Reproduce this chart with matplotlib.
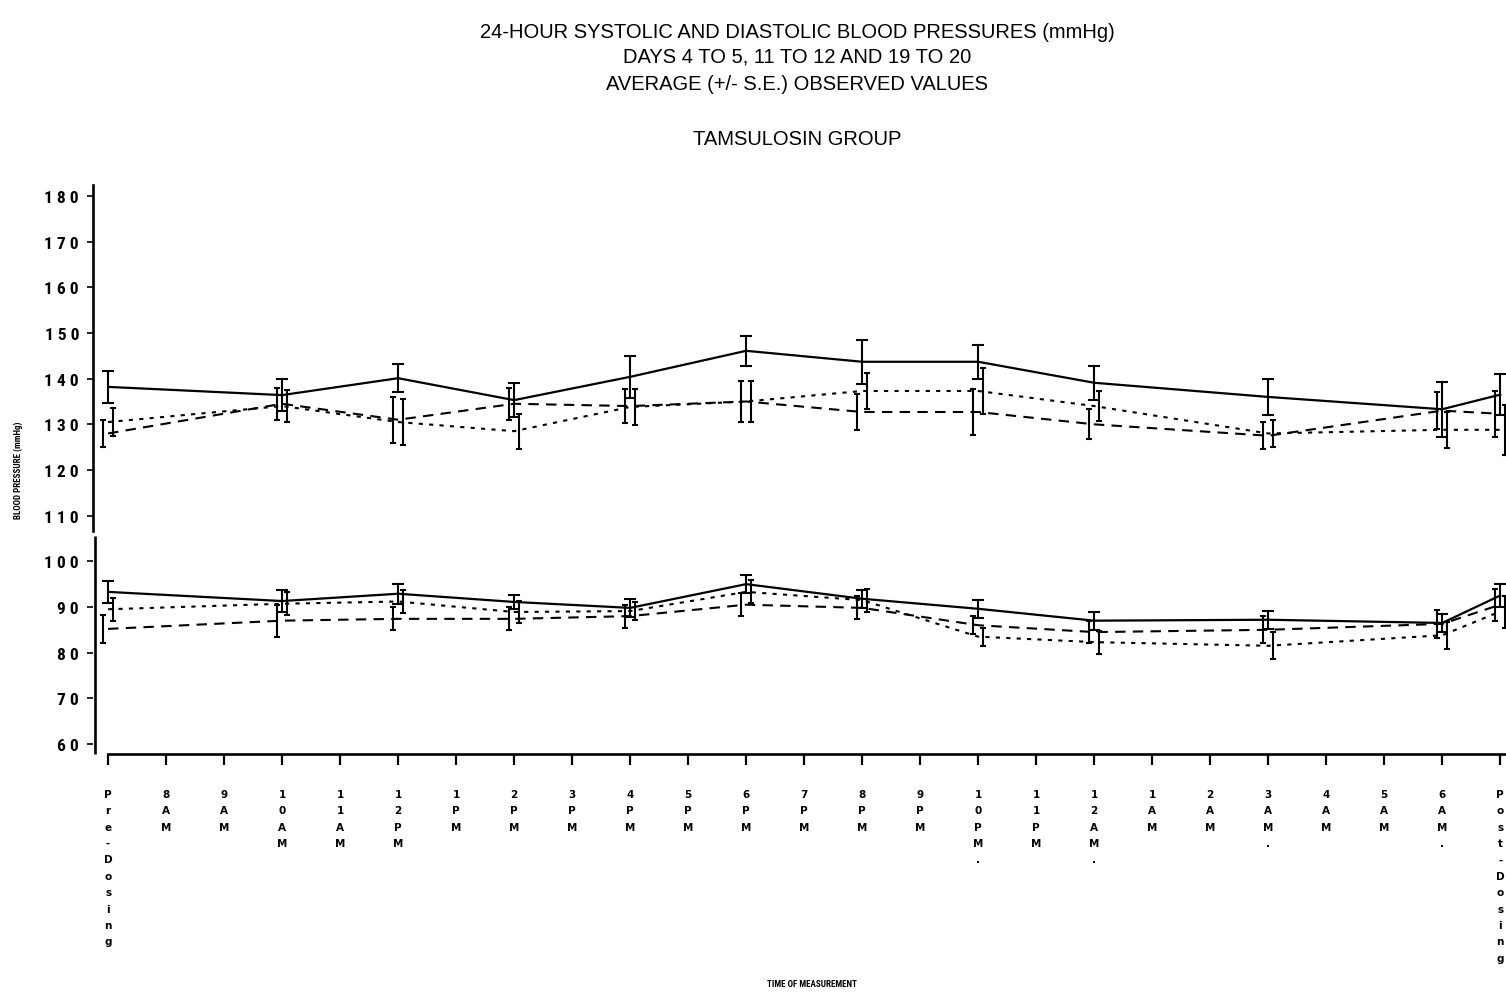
import matplotlib
matplotlib.use("Agg")
import matplotlib.pyplot as plt
import matplotlib.transforms as mtransforms
from matplotlib import font_manager

# ---------------- data ----------------
tick_labels = ["Pre-Dosing", "8AM", "9AM", "10AM", "11AM", "12PM", "1PM", "2PM",
               "3PM", "4PM", "5PM", "6PM", "7PM", "8PM", "9PM", "10PM.", "11PM",
               "12AM.", "1AM", "2AM", "3AM.", "4AM", "5AM", "6AM.", "Post-Dosing"]
y_ticks = [60, 70, 80, 90, 100, 110, 120, 130, 140, 150, 160, 170, 180]

# positions (index into tick_labels) where blood pressure was measured
meas_idx = [0, 3, 5, 7, 9, 11, 13, 15, 17, 20, 23, 24]

# systolic
sys_days_4_5 = [138.2, 136.4, 140.1, 135.3, 140.4, 146.1, 143.7, 143.7, 139.1, 136.0, 133.3, 136.5]
sys_days_4_5_se = [3.5, 3.5, 3.1, 3.8, 4.6, 3.3, 4.8, 3.7, 3.7, 3.9, 6.0, 4.5]
sys_days_11_12 = [128.0, 134.5, 131.0, 134.5, 134.0, 135.0, 132.7, 132.7, 130.0, 127.5, 133.0, 132.3]
sys_days_11_12_se = [3.0, 3.5, 5.0, 3.5, 3.8, 4.5, 4.0, 5.0, 3.3, 3.0, 4.0, 5.0]
sys_days_19_20 = [130.5, 134.0, 130.5, 128.5, 133.8, 135.0, 137.3, 137.3, 134.0, 128.0, 128.8, 128.8]
sys_days_19_20_se = [3.0, 3.5, 5.0, 3.8, 3.9, 4.5, 4.0, 5.0, 3.3, 3.0, 4.0, 5.5]

# diastolic
dia_days_4_5 = [93.3, 91.3, 92.9, 91.1, 89.8, 95.0, 91.8, 89.6, 87.0, 87.2, 86.5, 92.5]
dia_days_4_5_se = [2.4, 2.5, 2.2, 1.6, 2.0, 2.0, 2.0, 2.0, 2.0, 2.0, 2.0, 2.5]
dia_days_11_12 = [85.2, 87.0, 87.4, 87.4, 88.0, 90.5, 89.8, 86.0, 84.5, 85.0, 86.3, 90.5]
dia_days_11_12_se = [3.0, 3.5, 2.5, 2.5, 2.5, 2.5, 2.5, 2.0, 2.5, 3.0, 3.0, 3.5]
dia_days_19_20 = [89.5, 90.7, 91.2, 88.9, 89.1, 93.3, 91.5, 83.5, 82.3, 81.5, 83.8, 89.0]
dia_days_19_20_se = [2.5, 2.5, 2.5, 2.5, 2.0, 2.5, 2.5, 2.0, 2.5, 3.0, 3.0, 3.5]

title_lines = ["24-HOUR SYSTOLIC AND DIASTOLIC BLOOD PRESSURES (mmHg)",
               "DAYS 4 TO 5, 11 TO 12 AND 19 TO 20",
               "AVERAGE (+/- S.E.) OBSERVED VALUES"]
subtitle = "TAMSULOSIN GROUP"
x_label = "TIME OF MEASUREMENT"
y_label = "BLOOD PRESSURE (mmHg)"

# ---------------- fonts ----------------
def pick(fams):
    for f in fams:
        try:
            font_manager.findfont(f, fallback_to_default=False)
            return f
        except Exception:
            pass
    return "DejaVu Sans"

narrow = pick(["Liberation Sans Narrow", "DejaVu Sans Condensed", "Roboto Condensed", "Liberation Sans"])
regular = pick(["Liberation Sans", "Roboto", "DejaVu Sans"])
plt.rcParams["font.family"] = [narrow, "DejaVu Sans"]

# ---------------- figure ----------------
W, H = 1506, 995
fig = plt.figure(figsize=(W / 100, H / 100), dpi=100)
fig.patch.set_facecolor("white")

y_lo, y_hi = 57.8, 182.5
x_lo, x_hi = -0.26, 24.1
ax = fig.add_axes([93 / W, 1 - 755 / H, (W - 93) / W, (755 - 185.6) / H])
ax.set_xlim(x_lo, x_hi)
ax.set_ylim(y_lo, y_hi)
ax.set_facecolor("none")

# spines
for s in ["top", "right"]:
    ax.spines[s].set_visible(False)
ax.spines["left"].set_linewidth(1.9)
ax.spines["bottom"].set_linewidth(1.9)
break_hi, break_lo = 106.6, 105.6
ax.spines["left"].set_bounds(break_hi, y_hi)
ax.spines["bottom"].set_bounds(0, x_hi)
trans = mtransforms.blended_transform_factory(ax.transAxes, ax.transData)
ax.plot([0.0012, 0.0012], [y_lo, break_lo], transform=trans, color="black",
        lw=1.9, clip_on=False, solid_capstyle="butt")

# ticks
ax.set_yticks(y_ticks)
ax.set_yticklabels([" ".join(str(v)) for v in y_ticks], fontsize=12.5,
                   fontweight="bold", family=[narrow, "DejaVu Sans"])
ax.tick_params(axis="y", direction="out", length=4, width=1.2, pad=6)
ax.set_xticks(range(len(tick_labels)))
ax.set_xticklabels(["\n".join(t) for t in tick_labels], fontsize=7.5,
                   fontweight="bold", linespacing=1.8, va="top",
                   family=["DejaVu Sans"])
ax.tick_params(axis="x", direction="out", length=8, width=1.6, pad=17)

# series
def series(xs, ys, se, ls, off, cap, lw=1.5):
    ax.plot(xs, ys, color="black", lw=lw, linestyle=ls, dash_capstyle="butt")
    ax.errorbar([x + off for x in xs], ys, yerr=se, fmt="none", ecolor="black",
                elinewidth=1.5, capsize=cap, capthick=1.5)

solid = "-"
dashed = (0, (5, 3.5))
dotted = (0, (2, 3))

series(meas_idx, sys_days_4_5, sys_days_4_5_se, solid, 0.0, 4.5, 1.6)
series(meas_idx, sys_days_11_12, sys_days_11_12_se, dashed, -0.09, 2.0)
series(meas_idx, sys_days_19_20, sys_days_19_20_se, dotted, 0.09, 2.0)

series(meas_idx, dia_days_4_5, dia_days_4_5_se, solid, 0.0, 4.0, 1.6)
series(meas_idx, dia_days_11_12, dia_days_11_12_se, dashed, -0.09, 2.0)
series(meas_idx, dia_days_19_20, dia_days_19_20_se, dotted, 0.09, 2.0)

# titles
ty = [32, 57, 84]
for line, yy in zip(title_lines, ty):
    fig.text(797 / W, 1 - yy / H, line, ha="center", va="center", fontsize=14.5,
             family=[regular, "DejaVu Sans"])
fig.text(797 / W, 1 - 140 / H, subtitle, ha="center", va="center", fontsize=14.5,
         family=[regular, "DejaVu Sans"])

fig.text(812 / W, 1 - 985 / H, x_label, ha="center", va="center",
         fontsize=6.5, fontweight="bold")
fig.text(18 / W, 1 - 470 / H, y_label, ha="center", va="center", rotation=90,
         fontsize=6.5, fontweight="bold")

fig.savefig("out.png", dpi=100, facecolor="white")
